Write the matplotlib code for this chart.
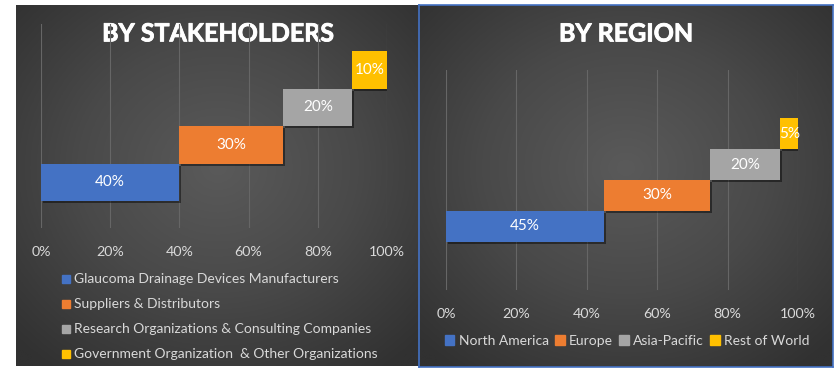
import numpy as np
import matplotlib
matplotlib.use("Agg")
import matplotlib.pyplot as plt
import matplotlib.patheffects as pe
from matplotlib.colors import LinearSegmentedColormap

# ---- data ----
stake_labels = ["Glaucoma Drainage Devices Manufacturers",
                "Suppliers & Distributors",
                "Research Organizations & Consulting Companies",
                "Government Organization  & Other Organizations"]
stake_values = [40, 30, 20, 10]

region_labels = ["North America", "Europe", "Asia-Pacific", "Rest of World"]
region_values = [45, 30, 20, 5]

colors = ["#4472C4", "#ED7D31", "#A5A5A5", "#FFC000"]
tick_vals = [0, 20, 40, 60, 80, 100]
tick_labels = ["0%", "20%", "40%", "60%", "80%", "100%"]

W, H = 837, 374
FONT = "Lato"
fig = plt.figure(figsize=(W / 100, H / 100), dpi=100)
fig.patch.set_facecolor("white")


def px_axes(x0, y0, x1, y1):
    return fig.add_axes([x0 / W, (H - y1) / H, (x1 - x0) / W, (y1 - y0) / H])


cmap = LinearSegmentedColormap.from_list("bg", ["#5a5a5a", "#494949", "#313131"])


def background(x0, y0, x1, y1, border=None):
    ax = px_axes(x0, y0, x1, y1)
    yy, xx = np.mgrid[0:1:200j, 0:1:200j]
    r = np.sqrt((xx - 0.5) ** 2 + (yy - 0.45) ** 2) / 0.7
    ax.imshow(np.clip(r, 0, 1), cmap=cmap, vmin=0, vmax=1, aspect="auto",
              extent=[0, 1, 0, 1], interpolation="bilinear")
    ax.set_xlim(0, 1)
    ax.set_ylim(0, 1)
    ax.set_xticks([])
    ax.set_yticks([])
    for s in ax.spines.values():
        if border:
            s.set_color(border)
            s.set_linewidth(1.2)
        else:
            s.set_visible(False)
    return ax


def chart(ax, values, pad):
    n = len(values)
    ypos = np.arange(n)
    lefts = np.concatenate([[0], np.cumsum(values)[:-1]])
    bars = ax.barh(ypos, values, left=lefts, height=1.0, color=colors,
                   zorder=3)
    for b in bars:
        b.set_path_effects([pe.SimplePatchShadow(offset=(1.5, -1.5), alpha=0.45,
                                                 shadow_rgbFace="black"),
                            pe.Normal()])
    ax.bar_label(bars, labels=[f"{v}%" for v in values], label_type="center",
                 color="white", fontsize=11, family=FONT)
    ax.set_xlim(0, 100)
    ax.set_ylim(-0.5 - pad, n - 0.5 + pad)
    ax.set_facecolor("none")
    ax.set_xticks(tick_vals)
    ax.set_xticklabels(tick_labels, family=FONT, fontsize=10.3, color="#D9D9D9")
    ax.set_yticks([])
    ax.tick_params(axis="x", length=0, pad=13)
    ax.grid(axis="x", color="#666666", linewidth=0.8, zorder=0)
    for s in ax.spines.values():
        s.set_visible(False)
    return bars


title_fx = [pe.withSimplePatchShadow(offset=(1, -1), alpha=0.5,
                                     shadow_rgbFace="black")]
title_fx = [pe.withStroke(linewidth=0.6, foreground="white")]

# ---- left panel ----
bgL = background(16, 5, 420, 366)
bgL.text(0.5, 0.92, "BY STAKEHOLDERS", transform=bgL.transAxes, ha="center",
         va="center", color="white", fontsize=18, fontweight="bold", family=FONT,
         path_effects=title_fx)
axL = px_axes(41, 24, 387, 228)
barsL = chart(axL, stake_values, 0.72)
for i, (lab, c) in enumerate(zip(stake_labels, colors)):
    y = 279 + i * 25
    fig.patches.append(plt.Rectangle((62 / W, (H - y - 4) / H), 8 / W, 8 / H,
                                     transform=fig.transFigure, color=c))
    fig.text(74 / W, (H - y) / H, lab, ha="left", va="center", color="#D9D9D9",
             fontsize=10, family=FONT)

# ---- right panel ----
bgR = background(419, 5, 833, 367, border="#4472C4")
bgR.text(0.5, 0.92, "BY REGION", transform=bgR.transAxes, ha="center",
         va="center", color="white", fontsize=18, fontweight="bold", family=FONT,
         path_effects=title_fx)
axR = px_axes(446, 70, 798, 290)
barsR = chart(axR, region_values, 1.55)
handles = [plt.Rectangle((0, 0), 1, 1, color=c) for c in colors]
leg = fig.legend(handles, region_labels, loc="center", ncol=4,
                 bbox_to_anchor=(627 / W, (H - 341) / H), frameon=False,
                 prop={"family": FONT, "size": 10}, labelcolor="#D9D9D9",
                 handlelength=0.7, handleheight=0.7, handletextpad=0.3,
                 columnspacing=0.45)

fig.savefig("out.png", dpi=100, facecolor="white")
